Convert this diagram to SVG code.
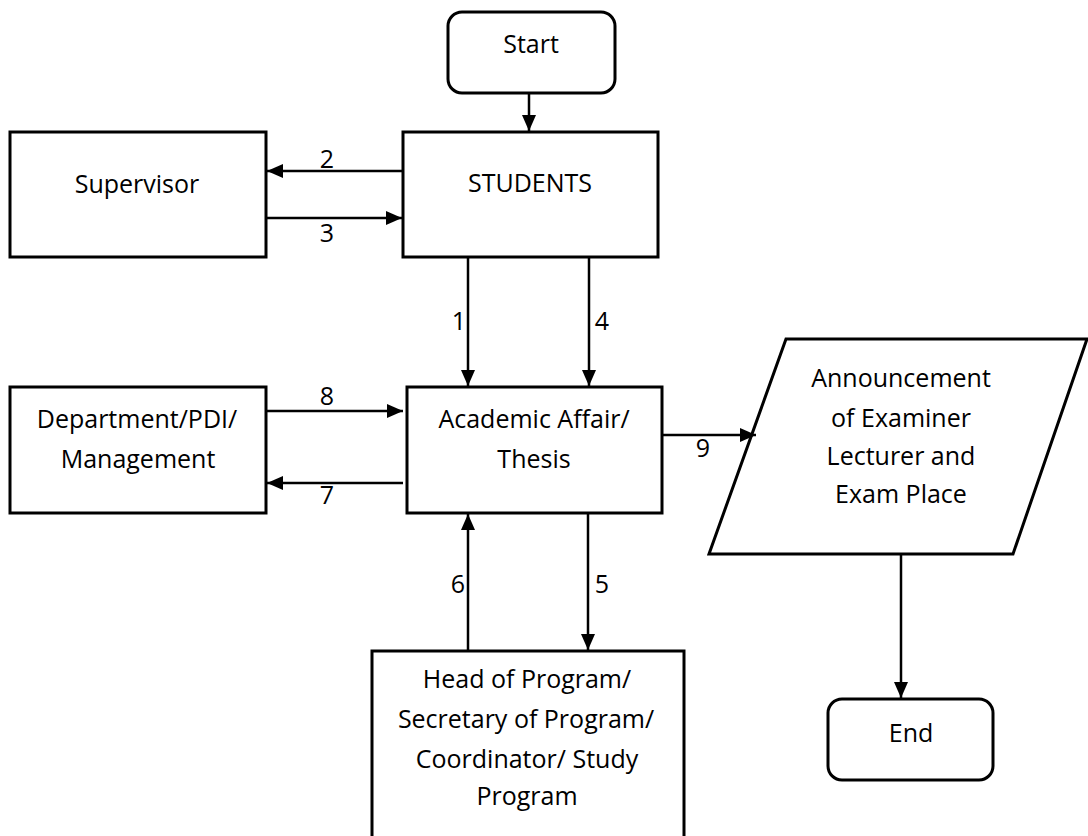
<svg xmlns="http://www.w3.org/2000/svg" width="1088" height="836" viewBox="0 0 1088 836">
<style>
.box{fill:#fff;stroke:#000;stroke-width:3}
.ln{fill:none;stroke:#000;stroke-width:2.5;marker-end:url(#ah)}
text{font-family:"Open Sans","Liberation Sans",sans-serif;font-size:25px;fill:#000;text-anchor:middle}
</style>
<defs>
<marker id="ah" markerUnits="userSpaceOnUse" markerWidth="16" markerHeight="14" refX="16" refY="7" orient="auto">
<path d="M0,0 L16,7 L0,14 z" fill="#000"/>
</marker>
</defs>
<rect width="1088" height="836" fill="#fff"/>
<g id="start"><rect class="box" x="448" y="12" width="167" height="81" rx="14"/><text x="531" y="53">Start</text></g>
<g id="students"><rect class="box" x="403" y="132" width="255" height="125"/><text x="530" y="192">STUDENTS</text></g>
<g id="supervisor"><rect class="box" x="10" y="132" width="256" height="125"/><text x="137" y="193">Supervisor</text></g>
<g id="academic"><rect class="box" x="407" y="387" width="255" height="126"/><text x="534" y="428">Academic Affair/</text><text x="534" y="468">Thesis</text></g>
<g id="department"><rect class="box" x="10" y="387" width="256" height="126"/><text x="137" y="428">Department/PDI/</text><text x="138" y="468">Management</text></g>
<g id="announcement"><polygon class="box" points="786,339 1087,339 1013,554 709,554"/><text x="901" y="387">Announcement</text><text x="901" y="427">of Examiner</text><text x="901" y="465">Lecturer and</text><text x="901" y="503">Exam Place</text></g>
<g id="head"><rect class="box" x="372" y="651" width="312" height="200"/><text x="527" y="688">Head of Program/</text><text x="526" y="728">Secretary of Program/</text><text x="527" y="768">Coordinator/ Study</text><text x="527" y="805">Program</text></g>
<g id="end"><rect class="box" x="828" y="699" width="165" height="81" rx="14"/><text x="911" y="742">End</text></g>
<g id="connectors">
<line class="ln" x1="529" y1="93" x2="529" y2="131"/>
<line class="ln" x1="403" y1="171" x2="267" y2="171"/>
<line class="ln" x1="266" y1="218" x2="402" y2="218"/>
<line class="ln" x1="468" y1="257" x2="468" y2="386"/>
<line class="ln" x1="589" y1="257" x2="589" y2="386"/>
<line class="ln" x1="266" y1="411" x2="403" y2="411"/>
<line class="ln" x1="403" y1="483" x2="267" y2="483"/>
<line class="ln" x1="662" y1="435" x2="756" y2="435"/>
<line class="ln" x1="468" y1="651" x2="468" y2="514"/>
<line class="ln" x1="588" y1="513" x2="588" y2="650"/>
<line class="ln" x1="901" y1="554" x2="901" y2="698"/>
<text x="327" y="168">2</text>
<text x="327" y="242">3</text>
<text x="459" y="330">1</text>
<text x="602" y="330">4</text>
<text x="327" y="405">8</text>
<text x="327" y="504">7</text>
<text x="703" y="457">9</text>
<text x="458" y="593">6</text>
<text x="602" y="593">5</text>
</g>
</svg>
